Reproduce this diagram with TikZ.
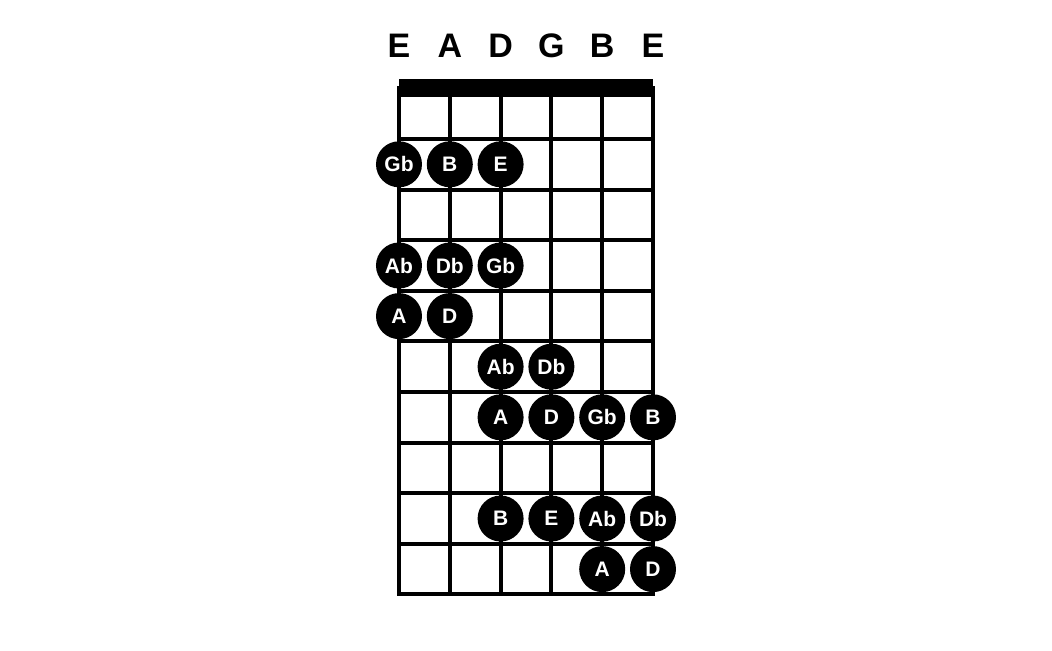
\documentclass[tikz,border=0pt]{standalone}
\usepackage{fontspec}
\setmainfont{Liberation Sans}
\begin{document}
\begin{tikzpicture}[x=50.8pt, y=-50.6pt,
  note/.style={circle, fill, inner sep=0pt, minimum size=46pt, text=white, font=\fontsize{21}{21}\selectfont\bfseries},
  tune/.style={anchor=base, inner sep=0pt, font=\fontsize{34}{34}\selectfont\bfseries},
  wire/.style={line width=4pt}]
\useasboundingbox (-7.854,-1.747) rectangle (12.854,11.099);
\node[tune] (t0) at (0,-0.615){E};
\node[tune] (t1) at (1,-0.615){A};
\node[tune] (t2) at (2,-0.615){D};
\node[tune] (t3) at (3,-0.615){G};
\node[tune] (t4) at (4,-0.615){B};
\node[tune] (t5) at (5,-0.615){E};
\foreach \f in {1,...,9} \draw[wire] (0,\f) -- (5,\f);
\foreach \s in {1,...,4} \draw[wire] (\s,0) -- (\s,10);
\draw[wire] (0,0) rectangle (5,10);
\fill (0,-0.186) rectangle (5,0.17);
\node[note] (d02) at (0,1.5){Gb};
\node[note] (d12) at (1,1.5){B};
\node[note] (d22) at (2,1.5){E};
\node[note] (d04) at (0,3.5){Ab};
\node[note] (d14) at (1,3.5){Db};
\node[note] (d24) at (2,3.5){Gb};
\node[note] (d05) at (0,4.5){A};
\node[note] (d15) at (1,4.5){D};
\node[note] (d26) at (2,5.5){Ab};
\node[note] (d36) at (3,5.5){Db};
\node[note] (d27) at (2,6.5){A};
\node[note] (d37) at (3,6.5){D};
\node[note] (d47) at (4,6.5){Gb};
\node[note] (d57) at (5,6.5){B};
\node[note] (d29) at (2,8.5){B};
\node[note] (d39) at (3,8.5){E};
\node[note] (d49) at (4,8.5){Ab};
\node[note] (d59) at (5,8.5){Db};
\node[note] (d410) at (4,9.5){A};
\node[note] (d510) at (5,9.5){D};
\end{tikzpicture}
\end{document}
